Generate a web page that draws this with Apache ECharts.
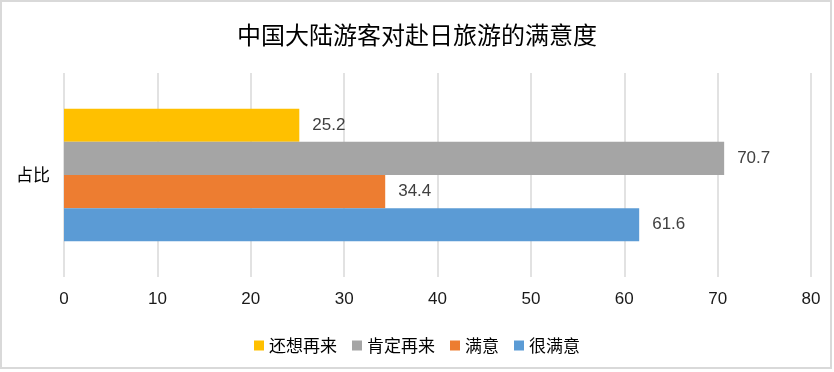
<!DOCTYPE html>
<html>
<head>
<meta charset="utf-8">
<script src="https://cdn.jsdelivr.net/npm/echarts@6/dist/echarts.min.js"></script>
<style>html,body{margin:0;padding:0;background:#fff}#c{width:834px;height:372px}</style>
</head>
<body>
<div id="c"></div>
<script>
const titleText = '中国大陆游客对赴日旅游的满意度';
const categories = ['占比'];
const seriesNames = ['还想再来', '肯定再来', '满意', '很满意'];
const seriesValues = [[25.2], [70.7], [34.4], [61.6]];
const seriesColors = ['#FFC000', '#A5A5A5', '#ED7D31', '#5B9BD5'];
const xTicks = [0, 80, 10]; // min, max, interval

const chart = echarts.init(document.getElementById('c'), null, {renderer: 'canvas'});
const CJK = '"Noto Sans CJK SC", sans-serif';
const NUM = '"Liberation Sans", "Noto Sans CJK SC", sans-serif';

const series = seriesNames.map((name, i) => ({
  name: name,
  type: 'bar',
  data: seriesValues[i],
  itemStyle: {color: seriesColors[i]},
  barGap: '0%',
  barCategoryGap: '35%',
  label: {show: true, position: 'right', distance: 13, fontSize: 17, color: '#404040', fontFamily: NUM},
  emphasis: {disabled: true}
}));

chart.setOption({
  animation: false,
  backgroundColor: '#fff',
  title: {
    text: titleText, left: 'center', top: 18,
    textStyle: {fontSize: 24, fontWeight: 'normal', color: '#000', fontFamily: CJK}
  },
  legend: {
    data: seriesNames, left: 'center', top: 332,
    itemWidth: 10, itemHeight: 10, itemGap: 15,
    icon: 'rect',
    textStyle: {fontSize: 17, color: '#000', fontFamily: CJK}
  },
  grid: {left: 64, right: 23, top: 73, bottom: 95, containLabel: false},
  xAxis: {
    type: 'value', min: xTicks[0], max: xTicks[1], interval: xTicks[2],
    axisLine: {show: false}, axisTick: {show: false},
    axisLabel: {margin: 14, fontSize: 17, color: '#1a1a1a', fontFamily: NUM},
    splitLine: {show: true, lineStyle: {color: '#d9d9d9', width: 1.5}}
  },
  yAxis: {
    type: 'category', data: categories,
    axisLine: {show: false}, axisTick: {show: false},
    axisLabel: {margin: 14, fontSize: 17, color: '#000', fontFamily: CJK}
  },
  series: series,
  graphic: [{
    type: 'rect', shape: {x: 1, y: 1, width: 830, height: 367},
    style: {fill: 'none', stroke: '#d9d9d9', lineWidth: 2}, silent: true, z: 100
  }]
});
</script>
</body>
</html>
